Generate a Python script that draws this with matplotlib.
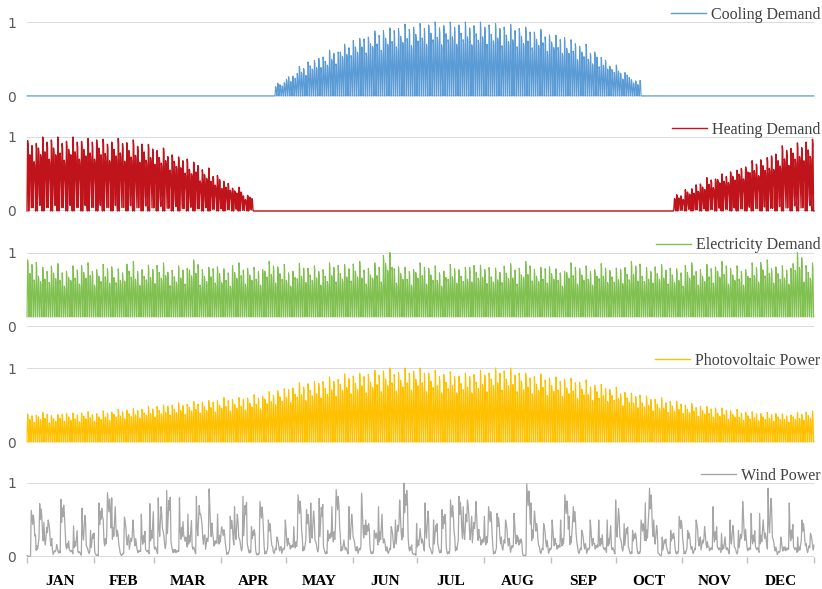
#!/usr/bin/env python3

import matplotlib
matplotlib.use('Agg')
import matplotlib.pyplot as plt
import numpy as np

months = ['JAN', 'FEB', 'MAR', 'APR', 'MAY', 'JUN',
          'JUL', 'AUG', 'SEP', 'OCT', 'NOV', 'DEC']
month_days = [31, 28, 31, 30, 31, 30, 31, 31, 30, 31, 30, 31]

# daily peak values, one per 5-day block (73 blocks = 365 days)
cooling_peak = [0.0] * 23 + [
    0.18, 0.28, 0.40, 0.48, 0.55, 0.62, 0.70, 0.78, 0.83, 0.88,
    0.92, 0.95, 0.97, 0.98, 1.00, 0.99, 1.00, 1.00, 0.99, 1.00,
    0.98, 0.97, 0.95, 0.93, 0.90, 0.86, 0.82, 0.76, 0.70, 0.62,
    0.52, 0.42, 0.33, 0.22,
] + [0.0] * 16

heating_peak = [
    0.95, 1.00, 1.00, 0.98, 1.00, 0.98, 1.00, 0.97, 0.98, 0.96,
    0.94, 0.90, 0.85, 0.79, 0.73, 0.66, 0.58, 0.50, 0.40, 0.32,
    0.22,
] + [0.0] * 39 + [
    0.22, 0.30, 0.38, 0.45, 0.50, 0.55, 0.62, 0.68, 0.72, 0.80,
    0.88, 0.92, 0.97,
]

electricity_peak = [
    0.90, 0.80, 0.85, 0.78, 0.82, 0.86, 0.80, 0.84, 0.78, 0.88,
    0.80, 0.83, 0.86, 0.79, 0.82, 0.90, 0.80, 0.84, 0.78, 0.86,
    0.82, 0.80, 0.88, 0.84, 0.78, 0.85, 0.82, 0.80, 0.86, 0.84,
    0.88, 0.82, 0.86, 1.00, 0.84, 0.80, 0.86, 0.82, 0.78, 0.84,
    0.80, 0.86, 0.83, 0.79, 0.85, 0.82, 0.88, 0.80, 0.84, 0.78,
    0.86, 0.82, 0.80, 0.85, 0.79, 0.83, 0.88, 0.80, 0.84, 0.82,
    0.78, 0.86, 0.80, 0.84, 0.88, 0.82, 0.80, 0.86, 0.90, 0.84,
    0.82, 1.00, 0.86,
]
electricity_low = 0.13

pv_peak = [
    0.38, 0.40, 0.37, 0.40, 0.39, 0.41, 0.40, 0.42, 0.44, 0.45,
    0.46, 0.48, 0.50, 0.52, 0.53, 0.55, 0.56, 0.58, 0.60, 0.60,
    0.62, 0.64, 0.68, 0.72, 0.76, 0.80, 0.82, 0.85, 0.88, 0.92,
    0.93, 0.95, 0.97, 1.00, 0.98, 1.00, 1.00, 0.97, 0.95, 0.95,
    0.93, 0.95, 0.97, 1.00, 1.00, 0.97, 0.93, 0.92, 0.90, 0.88,
    0.86, 0.84, 0.80, 0.78, 0.74, 0.70, 0.66, 0.62, 0.60, 0.57,
    0.55, 0.52, 0.50, 0.48, 0.46, 0.44, 0.42, 0.41, 0.40, 0.40,
    0.38, 0.40, 0.42,
]

# day-to-day spread of the peaks and heating night lows
day_shape = [1.00, 0.80, 0.93, 0.70, 0.96, 0.85, 0.76]
heating_low_shape = [0.0, 0.35, 0.05, 0.5, 0.0, 0.25, 0.1]

# wind power, read about every two days, with the short dips between
wind = [
    0.02, 0.63, 0.30, 0.72, 0.47, 0.50, 0.10, 0.17, 0.78, 0.36,
    0.10, 0.42, 0.08, 0.66, 0.15, 0.36, 0.06, 0.73, 0.50, 0.87,
    0.80, 0.40, 0.06, 0.54, 0.30, 0.50, 0.10, 0.58, 0.10, 0.72,
    0.15, 0.80, 0.38, 0.90, 0.20, 0.10, 0.80, 0.30, 0.58, 0.15,
    0.82, 0.58, 0.30, 0.92, 0.25, 0.58,
    0.41, 0.12, 0.55, 0.68, 0.27, 0.82, 0.18, 0.41, 0.09, 0.75,
    0.14, 0.50, 0.14, 0.27, 0.14, 0.50, 0.18, 0.41, 0.84, 0.27,
    0.64, 0.73, 0.23, 0.79, 0.14, 0.36, 0.68, 0.91, 0.27, 0.14,
    0.68, 0.27, 0.14, 0.86, 0.50, 0.14, 0.36, 0.68, 0.27, 0.14,
    0.41, 0.50, 0.77, 1.00, 0.27, 0.05, 0.45,
    0.27, 0.73, 0.14, 0.50, 0.18, 0.64, 0.14, 0.77, 0.27, 0.82,
    0.68, 0.77, 0.55, 0.75, 0.27, 0.55, 0.68, 0.14, 0.59, 0.27,
    0.50, 0.18, 0.59, 0.27, 0.05, 0.99, 0.73, 0.50, 0.14, 0.45,
    0.14, 0.50, 0.18, 0.50, 0.84, 0.55, 0.68, 0.14, 0.36, 0.14,
    0.50, 0.18, 0.50, 0.14,
    0.50, 0.14, 0.77, 0.27, 0.45, 0.14, 0.36, 0.14, 0.50, 0.73,
    0.93, 0.50, 0.05, 0.27, 0.14, 0.36, 0.14, 0.55, 0.14, 0.36,
    0.14, 0.50, 0.27, 0.41, 0.14, 0.68, 0.14, 0.32, 0.14, 0.50,
    0.14, 0.36, 0.75, 0.14, 0.59, 0.14, 0.59, 0.36, 0.93, 0.27,
    0.09, 0.27, 0.14, 0.73, 0.14, 0.27, 0.50, 0.18, 0.32,
]
wind_dip = [0.45, 0.85, 0.30, 0.70, 0.50, 0.90, 0.35, 0.75, 0.60]

days = np.arange(365)


def daily_peaks(blocks):
    """Expand 5-day block values to one peak per day."""
    return np.repeat(blocks, 5) * np.resize(day_shape, 365)


def daily_curve(lows, peaks):
    """Each day: night low, rise to the peak, short plateau, back down."""
    lows = np.broadcast_to(lows, 365)
    x = (days[:, None] + np.array([0.0, 0.3, 0.5, 0.8])).ravel()
    y = np.column_stack([lows, peaks, 0.93 * peaks, lows]).ravel()
    return np.append(x, 365), np.append(y, y[-1])


def wind_curve(values):
    v = np.asarray(values)
    n = len(v)
    cols = [v]
    for k in range(5):
        shifted = wind_dip[2 * k % 9:] + wind_dip[:2 * k % 9]
        cols.append(v * np.resize(shifted, n))
    y = np.column_stack(cols).ravel()
    x = np.linspace(0, 365, len(y))
    return x, y


def style_panel(ax, label, color, bottom=False):
    ax.set_xlim(0, 365)
    ax.set_ylim(0, 1)
    for s in ax.spines.values():
        s.set_visible(False)
    ax.axhline(1, color='#D9D9D9', lw=1.3, zorder=0)
    ax.axhline(0, color='#D9D9D9', lw=1.3, zorder=0)
    ax.set_yticks([0, 1])
    ax.set_yticklabels(['0', '1'], color='#595959', fontsize=10)
    ax.tick_params(axis='y', length=0, pad=8)

    edges = np.concatenate([[0], np.cumsum(month_days)])
    if bottom:
        centers = (edges[:-1] + edges[1:]) / 2
        ax.set_xticks(centers)
        ax.set_xticklabels(months, family='Liberation Serif',
                           fontweight='bold', fontsize=11)
        ax.set_xticks(edges, minor=True)
        ax.tick_params(axis='x', which='major', length=0, pad=13)
        ax.tick_params(axis='x', which='minor', length=4,
                       color='#BFBFBF', width=1)
    else:
        ax.set_xticks([])

    ax.plot([], [], color=color, lw=1, label=label)
    leg = ax.legend(loc='lower right', bbox_to_anchor=(1.008, 0.99),
                    frameon=False, borderaxespad=0, borderpad=0,
                    handlelength=2.2, handletextpad=0.3,
                    prop={'family': 'Liberation Serif', 'size': 11.5})
    for t in leg.get_texts():
        t.set_color('#404040')


def main():
    fig = plt.figure(figsize=(8.22, 5.89), dpi=100)
    left = 27 / 822
    width = (814 - 27) / 822
    height = 74 / 589
    zeros = [96, 211, 326.5, 442, 557]
    axes = [fig.add_axes([left, 1 - y0 / 589, width, height]) for y0 in zeros]

    # cooling demand
    x, y = daily_curve(0.0, daily_peaks(cooling_peak))
    axes[0].plot(x, y, color='#5B9BD5', lw=0.8, clip_on=False)
    style_panel(axes[0], 'Cooling Demand', '#5B9BD5')

    # heating demand
    hp = daily_peaks(heating_peak)
    x, y = daily_curve(hp * np.resize(heating_low_shape, 365), hp)
    axes[1].plot(x, y, color='#C0141C', lw=1.0, clip_on=False)
    style_panel(axes[1], 'Heating Demand', '#C0141C')

    # electricity demand
    x, y = daily_curve(electricity_low, daily_peaks(electricity_peak))
    axes[2].plot(x, y, color='#80C050', lw=0.8, clip_on=False)
    style_panel(axes[2], 'Electricity Demand', '#80C050')

    # photovoltaic power
    x, y = daily_curve(0.0, daily_peaks(pv_peak))
    axes[3].plot(x, y, color='#FFC000', lw=0.8, clip_on=False)
    style_panel(axes[3], 'Photovoltaic Power', '#FFC000')

    # wind power
    x, y = wind_curve(wind)
    axes[4].plot(x, y, color='#A6A6A6', lw=0.9, clip_on=False)
    style_panel(axes[4], 'Wind Power', '#A6A6A6', bottom=True)

    plt.savefig('out.png', dpi=100)


if __name__ == "__main__":
    main()
